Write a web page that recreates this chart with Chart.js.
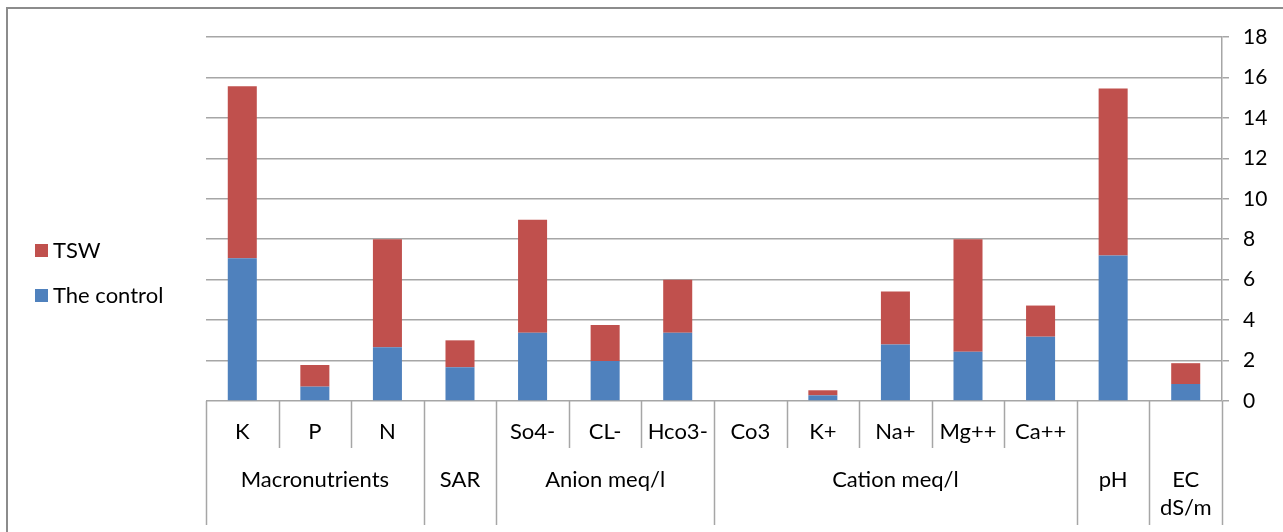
<!DOCTYPE html>
<html>
<head>
<meta charset="utf-8">
<script src="https://cdn.jsdelivr.net/npm/chart.js@4"></script>
<style>
  html, body { margin: 0; padding: 0; background: #fff; }
  #wrap { width: 1283px; height: 532px; }
</style>
</head>
<body>
<div id="wrap"><canvas id="chart" width="1283" height="532"></canvas></div>
<script>
// sub categories (first row under the axis)
const subLabels = ['K', 'P', 'N', '', 'So4-', 'CL-', 'Hco3-', 'Co3', 'K+', 'Na+', 'Mg++', 'Ca++', '', ''];
// groups (second row) and how many bars each one covers
const groupLabels = ['Macronutrients', 'SAR', 'Anion meq/l', 'Cation meq/l', 'pH', 'EC\ndS/m'];
const groupSpans = [3, 1, 3, 5, 1, 1];

const controlValues = [7.06, 0.71, 2.66, 1.67, 3.38, 1.98, 3.38, 0, 0.28, 2.80, 2.44, 3.18, 7.19, 0.84];
const tswValues = [8.50, 1.07, 5.34, 1.33, 5.58, 1.78, 2.62, 0, 0.25, 2.61, 5.56, 1.54, 8.26, 1.03];

const yTicks = [0, 2, 4, 6, 8, 10, 12, 14, 16, 18];

const FONT = 'Lato, "Open Sans", sans-serif';
const BLUE = '#4F81BD';
const RED = '#C0504D';
const LINE = '#a6a6a6';

// draws the frame, the two-level category axis and the legend
const extrasPlugin = {
  id: 'extras',
  afterDraw(chart) {
    const ctx = chart.ctx;
    const area = chart.chartArea;
    const x = chart.scales.x;
    const n = subLabels.length;

    ctx.save();

    // outer frame (top + left)
    ctx.strokeStyle = '#8c8c8c';
    ctx.lineWidth = 2;
    ctx.beginPath();
    ctx.moveTo(7, 532);
    ctx.lineTo(7, 8);
    ctx.lineTo(1283, 8);
    ctx.stroke();

    // category boundaries
    const bounds = [];
    for (let i = 0; i <= n; i++) {
      if (i === 0) bounds.push(area.left);
      else if (i === n) bounds.push(area.right);
      else bounds.push((x.getPixelForValue(i - 1) + x.getPixelForValue(i)) / 2);
    }
    const groupEdges = [0];
    groupSpans.forEach(s => groupEdges.push(groupEdges[groupEdges.length - 1] + s));

    ctx.strokeStyle = LINE;
    ctx.lineWidth = 1.5;
    for (let i = 0; i <= n; i++) {
      const full = groupEdges.includes(i);
      ctx.beginPath();
      ctx.moveTo(Math.round(bounds[i]) + 0.5, area.bottom);
      ctx.lineTo(Math.round(bounds[i]) + 0.5, full ? 525 : 448);
      ctx.stroke();
    }

    ctx.fillStyle = '#000';
    ctx.font = '22px ' + FONT;
    ctx.textAlign = 'center';
    ctx.textBaseline = 'middle';
    subLabels.forEach((lab, i) => {
      if (lab) ctx.fillText(lab, x.getPixelForValue(i), 432);
    });

    groupLabels.forEach((lab, g) => {
      const cx = (bounds[groupEdges[g]] + bounds[groupEdges[g + 1]]) / 2;
      const lines = lab.split('\n');
      lines.forEach((t, k) => ctx.fillText(t, cx, 480 + k * 28));
    });

    // legend (TSW on top)
    const items = [
      { text: chart.data.datasets[1].label, color: RED, y: 250 },
      { text: chart.data.datasets[0].label, color: BLUE, y: 295 }
    ];
    ctx.textAlign = 'left';
    items.forEach(it => {
      ctx.fillStyle = it.color;
      ctx.fillRect(35, it.y - 6, 13, 13);
      ctx.fillStyle = '#000';
      ctx.fillText(it.text, 53, it.y + 1);
    });

    ctx.restore();
  }
};

new Chart(document.getElementById('chart'), {
  type: 'bar',
  data: {
    labels: subLabels,
    datasets: [
      {
        label: 'The control',
        data: controlValues,
        backgroundColor: BLUE,
        borderWidth: 0,
        categoryPercentage: 1,
        barPercentage: 0.4
      },
      {
        label: 'TSW',
        data: tswValues,
        backgroundColor: RED,
        borderWidth: 0,
        categoryPercentage: 1,
        barPercentage: 0.4
      }
    ]
  },
  options: {
    responsive: false,
    animation: false,
    layout: { padding: { left: 206, top: 37, bottom: 131, right: 0 } },
    plugins: {
      legend: { display: false },
      tooltip: { enabled: false }
    },
    scales: {
      x: {
        stacked: true,
        display: false,
        offset: true,
        grid: { display: false }
      },
      y: {
        stacked: true,
        position: 'right',
        min: 0,
        max: 18,
        afterBuildTicks(scale) {
          scale.ticks = yTicks.map(v => ({ value: v }));
        },
        afterFit(scale) {
          scale.width = 61;
        },
        ticks: {
          color: '#000',
          padding: 14,
          font: { family: FONT, size: 21 }
        },
        grid: {
          color: LINE,
          lineWidth: 1.5,
          tickLength: 7
        },
        border: { display: true, color: LINE, width: 1.5 }
      }
    }
  },
  plugins: [extrasPlugin]
});
</script>
</body>
</html>
